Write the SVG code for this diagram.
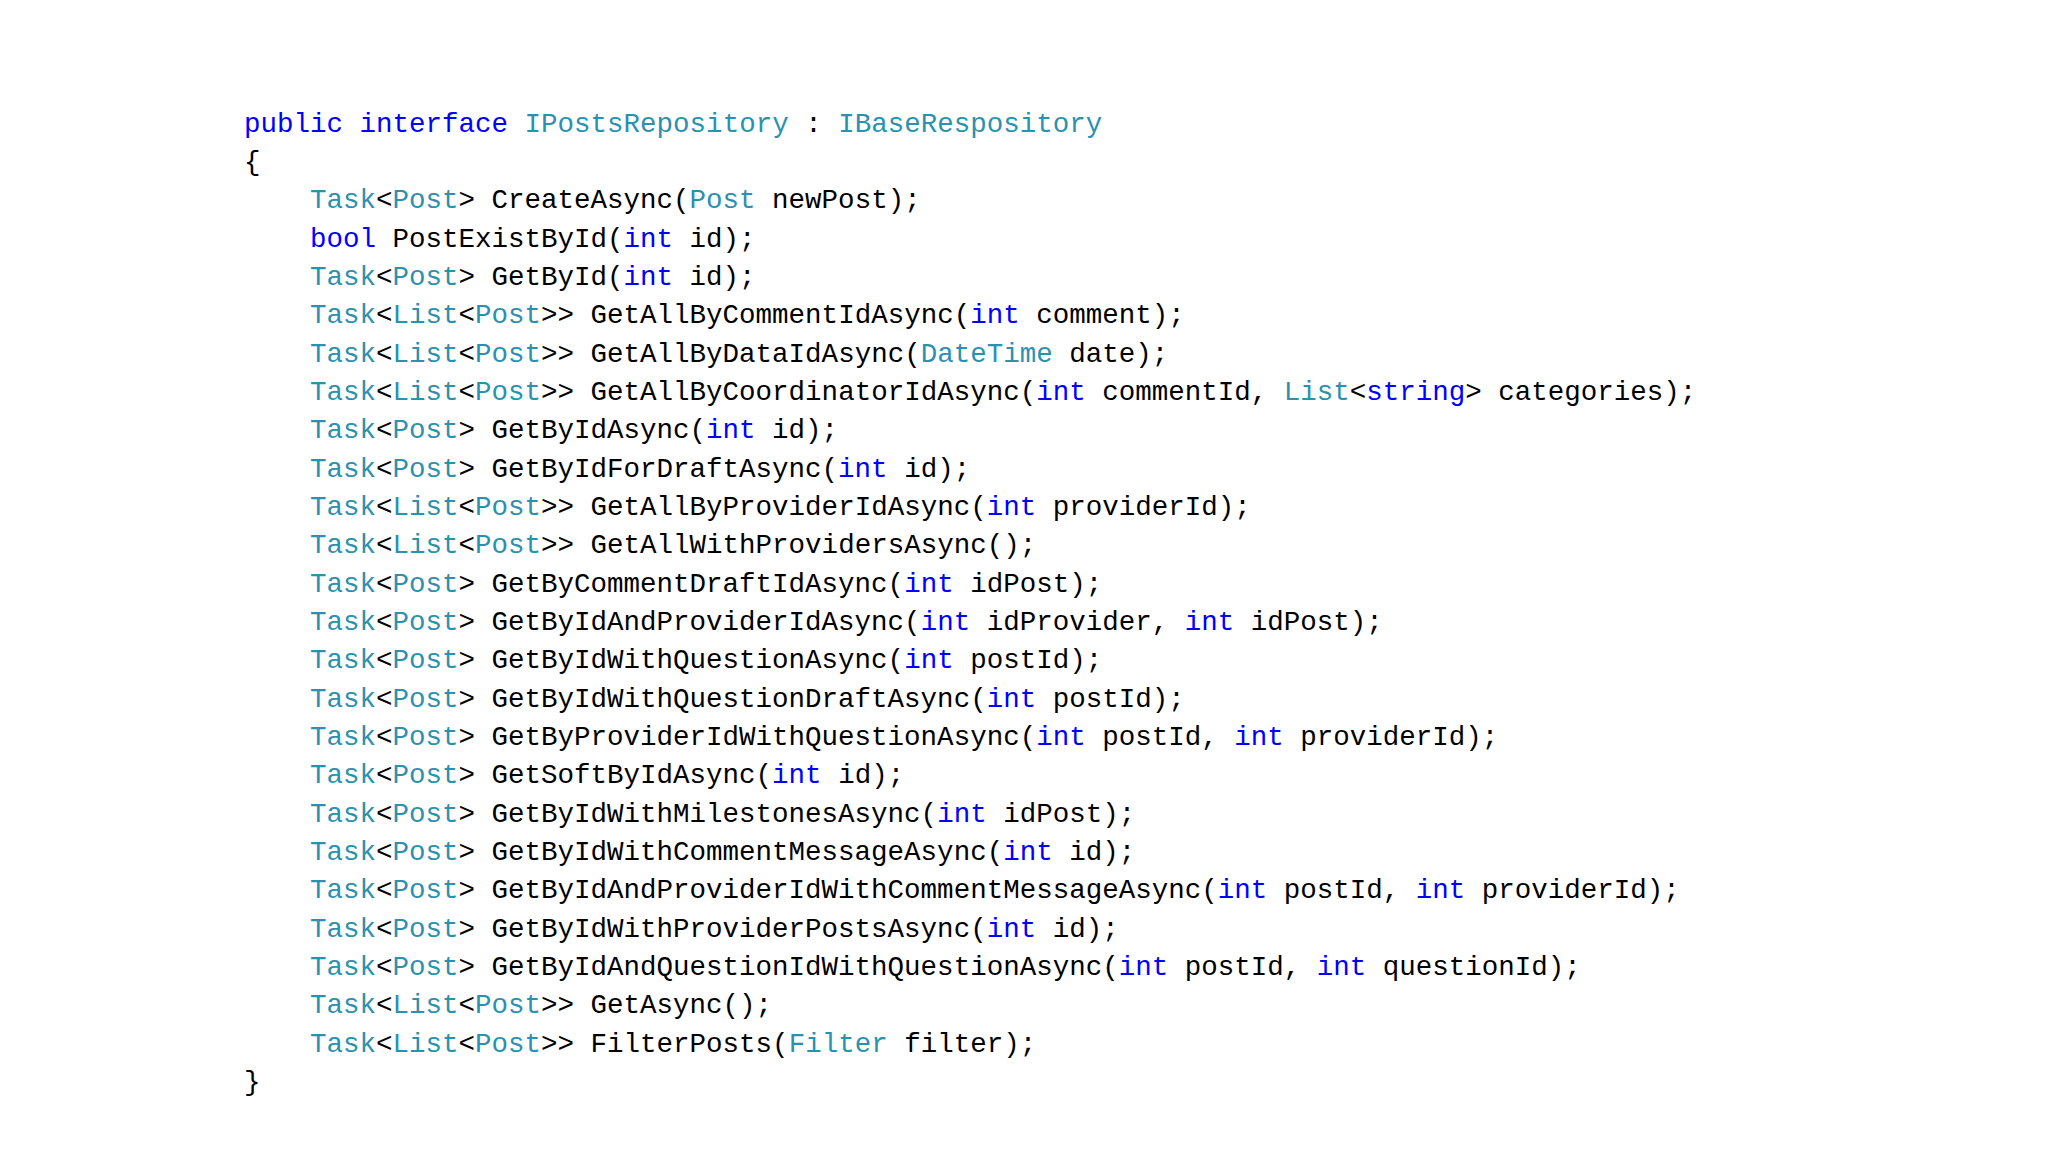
<svg xmlns="http://www.w3.org/2000/svg" width="2048" height="1152" viewBox="0 0 2048 1152" xml:space="preserve">
<style>
text{font-family:"Liberation Mono","DejaVu Sans Mono",monospace;font-size:27.5px;fill:#000}
.k{fill:#0000ff}.t{fill:#2b91af}
</style>
<rect width="2048" height="1152" fill="#fff"/>
<g id="code">
<text x="244" y="132"><tspan class="k">public</tspan> <tspan class="k">interface</tspan> <tspan class="t">IPostsRepository</tspan> : <tspan class="t">IBaseRespository</tspan></text>
<text x="244" y="170">{</text>
<text x="310" y="208"><tspan class="t">Task</tspan>&lt;<tspan class="t">Post</tspan>&gt; CreateAsync(<tspan class="t">Post</tspan> newPost);</text>
<text x="310" y="247"><tspan class="k">bool</tspan> PostExistById(<tspan class="k">int</tspan> id);</text>
<text x="310" y="285"><tspan class="t">Task</tspan>&lt;<tspan class="t">Post</tspan>&gt; GetById(<tspan class="k">int</tspan> id);</text>
<text x="310" y="323"><tspan class="t">Task</tspan>&lt;<tspan class="t">List</tspan>&lt;<tspan class="t">Post</tspan>&gt;&gt; GetAllByCommentIdAsync(<tspan class="k">int</tspan> comment);</text>
<text x="310" y="362"><tspan class="t">Task</tspan>&lt;<tspan class="t">List</tspan>&lt;<tspan class="t">Post</tspan>&gt;&gt; GetAllByDataIdAsync(<tspan class="t">DateTime</tspan> date);</text>
<text x="310" y="400"><tspan class="t">Task</tspan>&lt;<tspan class="t">List</tspan>&lt;<tspan class="t">Post</tspan>&gt;&gt; GetAllByCoordinatorIdAsync(<tspan class="k">int</tspan> commentId, <tspan class="t">List</tspan>&lt;<tspan class="k">string</tspan>&gt; categories);</text>
<text x="310" y="438"><tspan class="t">Task</tspan>&lt;<tspan class="t">Post</tspan>&gt; GetByIdAsync(<tspan class="k">int</tspan> id);</text>
<text x="310" y="477"><tspan class="t">Task</tspan>&lt;<tspan class="t">Post</tspan>&gt; GetByIdForDraftAsync(<tspan class="k">int</tspan> id);</text>
<text x="310" y="515"><tspan class="t">Task</tspan>&lt;<tspan class="t">List</tspan>&lt;<tspan class="t">Post</tspan>&gt;&gt; GetAllByProviderIdAsync(<tspan class="k">int</tspan> providerId);</text>
<text x="310" y="553"><tspan class="t">Task</tspan>&lt;<tspan class="t">List</tspan>&lt;<tspan class="t">Post</tspan>&gt;&gt; GetAllWithProvidersAsync();</text>
<text x="310" y="592"><tspan class="t">Task</tspan>&lt;<tspan class="t">Post</tspan>&gt; GetByCommentDraftIdAsync(<tspan class="k">int</tspan> idPost);</text>
<text x="310" y="630"><tspan class="t">Task</tspan>&lt;<tspan class="t">Post</tspan>&gt; GetByIdAndProviderIdAsync(<tspan class="k">int</tspan> idProvider, <tspan class="k">int</tspan> idPost);</text>
<text x="310" y="668"><tspan class="t">Task</tspan>&lt;<tspan class="t">Post</tspan>&gt; GetByIdWithQuestionAsync(<tspan class="k">int</tspan> postId);</text>
<text x="310" y="707"><tspan class="t">Task</tspan>&lt;<tspan class="t">Post</tspan>&gt; GetByIdWithQuestionDraftAsync(<tspan class="k">int</tspan> postId);</text>
<text x="310" y="745"><tspan class="t">Task</tspan>&lt;<tspan class="t">Post</tspan>&gt; GetByProviderIdWithQuestionAsync(<tspan class="k">int</tspan> postId, <tspan class="k">int</tspan> providerId);</text>
<text x="310" y="783"><tspan class="t">Task</tspan>&lt;<tspan class="t">Post</tspan>&gt; GetSoftByIdAsync(<tspan class="k">int</tspan> id);</text>
<text x="310" y="822"><tspan class="t">Task</tspan>&lt;<tspan class="t">Post</tspan>&gt; GetByIdWithMilestonesAsync(<tspan class="k">int</tspan> idPost);</text>
<text x="310" y="860"><tspan class="t">Task</tspan>&lt;<tspan class="t">Post</tspan>&gt; GetByIdWithCommentMessageAsync(<tspan class="k">int</tspan> id);</text>
<text x="310" y="898"><tspan class="t">Task</tspan>&lt;<tspan class="t">Post</tspan>&gt; GetByIdAndProviderIdWithCommentMessageAsync(<tspan class="k">int</tspan> postId, <tspan class="k">int</tspan> providerId);</text>
<text x="310" y="937"><tspan class="t">Task</tspan>&lt;<tspan class="t">Post</tspan>&gt; GetByIdWithProviderPostsAsync(<tspan class="k">int</tspan> id);</text>
<text x="310" y="975"><tspan class="t">Task</tspan>&lt;<tspan class="t">Post</tspan>&gt; GetByIdAndQuestionIdWithQuestionAsync(<tspan class="k">int</tspan> postId, <tspan class="k">int</tspan> questionId);</text>
<text x="310" y="1013"><tspan class="t">Task</tspan>&lt;<tspan class="t">List</tspan>&lt;<tspan class="t">Post</tspan>&gt;&gt; GetAsync();</text>
<text x="310" y="1052"><tspan class="t">Task</tspan>&lt;<tspan class="t">List</tspan>&lt;<tspan class="t">Post</tspan>&gt;&gt; FilterPosts(<tspan class="t">Filter</tspan> filter);</text>
<text x="244" y="1090">}</text>
</g>
</svg>
